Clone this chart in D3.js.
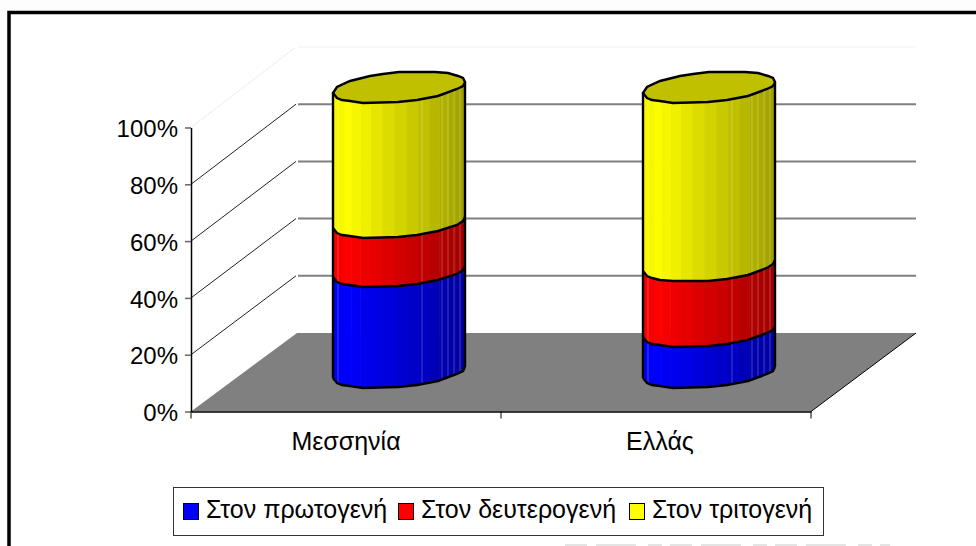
<!DOCTYPE html>
<html>
<head>
<meta charset="utf-8">
<script src="https://cdn.jsdelivr.net/npm/d3@7"></script>
<style>
  html, body { margin: 0; padding: 0; background: #fff; }
  text { font-family: "Liberation Sans", Arial, sans-serif; fill: #000; }
</style>
</head>
<body>
<svg id="chart"></svg>
<script>
// Chart data
const categories = ["Μεσσηνία", "Ελλάς"];
const seriesNames = ["Στον πρωτογενή", "Στον δευτερογενή", "Στον τριτογενή"];
const primary = [35.4, 14.4];
const secondary = [17.2, 23];
const tertiary = [47.4, 62.6];
const tickValues = [0, 20, 40, 60, 80, 100];

const colors = ["#0000ff", "#ff0000", "#ffff00"];
const capColor = "#c0c000";

const svgWidth = 976;
const svgHeight = 546;

const svg = d3.select("#chart")
  .attr("width", svgWidth)
  .attr("height", svgHeight)
  .style("display", "block");

// Frame
svg.append("rect").attr("width", svgWidth).attr("height", svgHeight).attr("fill", "#fdfdfd");
svg.append("rect").attr("x", 9).attr("y", 12.5).attr("width", 1000).attr("height", 600)
  .attr("fill", "#fff").attr("stroke", "#000").attr("stroke-width", 3.5);

// Scales: front of the box, back wall, and depth in between
const x = d3.scaleBand().domain(categories).range([191, 811]);
const yFront = d3.scaleLinear().domain([0, 100]).range([411.5, 127.5]);
const yBack = d3.scaleLinear().domain([0, 100]).range([333, 47]);
const depthX = 106;
const yMid = v => (yFront(v) + yBack(v)) / 2;

// Back wall and side wall gridlines
const walls = svg.append("g");
tickValues.slice(1).forEach(v => {
  const top = v === 100;
  walls.append("line")
    .attr("x1", 191).attr("y1", yFront(v))
    .attr("x2", 190 + depthX).attr("y2", yBack(v))
    .attr("stroke", top ? "#e6e6e6" : "#222")
    .attr("stroke-dasharray", top ? "2,1" : null)
    .attr("stroke-width", 1);
  walls.append("line")
    .attr("x1", 192 + depthX).attr("y1", yBack(v))
    .attr("x2", 916).attr("y2", yBack(v))
    .attr("stroke", top ? "#f2f2f2" : "#808080")
    .attr("stroke-width", top ? 1 : 2);
});

// Floor
const floorPoints = [[191, yFront(0)], [191 + depthX, yBack(0)], [916, yBack(0)], [811, yFront(0)]];
svg.append("polygon")
  .attr("points", floorPoints.join(" "))
  .attr("fill", "#808080");
svg.append("line")
  .attr("x1", 811).attr("y1", yFront(0)).attr("x2", 916).attr("y2", yBack(0))
  .attr("stroke", "#000").attr("stroke-width", 1);

// Axes
const axisY = d3.axisLeft(yFront)
  .tickValues(tickValues)
  .tickFormat(d => d + "%")
  .tickSize(6)
  .tickSizeOuter(0)
  .tickPadding(7);
const gy = svg.append("g").attr("transform", "translate(191,0)").call(axisY);
gy.selectAll("text").style("font-size", "24px").attr("dy", "0.38em");
gy.select("path").attr("stroke", "#000").attr("stroke-width", 1.5);
gy.selectAll("line").attr("stroke", "#666").attr("stroke-width", 1.5);

const axisX = d3.axisBottom(x).tickSize(0).tickPadding(21);
const gx = svg.append("g").attr("transform", "translate(0,411.5)").call(axisX);
gx.select("path").attr("stroke", "#000").attr("stroke-width", 1.5);
gx.selectAll("text").style("font-size", "25px").attr("dx", (d, i) => i ? 4 : 0);
[191, 501, 811].forEach(px => {
  gx.append("line").attr("x1", px).attr("x2", px).attr("y1", 0).attr("y2", 7).attr("stroke", "#000");
});

// Cylinders
const rx = 66, ry = 15, shear = 5.5;
const frontAngles = [0, 14, 28, 54, 74, 91, 123, 138, 149, 160, 180];
const backAngles = [-160, -138, -116, -104, -90, -57, -42, -27, -14];
const seamOffsets = [-61, 23, 43, 49, 55, 61];
const ringPoint = (cx, cy, deg) => {
  const t = deg * Math.PI / 180;
  return [Math.round(cx + rx * Math.cos(t)), Math.round(cy + ry * Math.sin(t) - shear * Math.cos(t))];
};

const table = categories.map((c, i) => ({
  category: c, a: primary[i], b: secondary[i], c: tertiary[i]
}));
const stacked = d3.stack().keys(["a", "b", "c"])(table);

const line = d3.line();

categories.forEach((cat, ci) => {
  const cx = x(cat) + x.bandwidth() / 2 + depthX / 2;
  const g = svg.append("g");

  stacked.forEach((layer, si) => {
    const [v0, v1] = layer[ci];
    const low = frontAngles.map(a => ringPoint(cx, yMid(v0), a));
    const high = frontAngles.map(a => ringPoint(cx, yMid(v1), a)).reverse();
    const shape = line(low.concat(high)) + "Z";
    const clipId = `clip-${ci}-${si}`;
    g.append("clipPath").attr("id", clipId).append("path").attr("d", shape);

    const strips = g.append("g").attr("clip-path", `url(#${clipId})`);
    const base = d3.rgb(colors[si]);
    // shading bands, narrower towards the edges of the cylinder
    d3.range(0, 180, 10.5).forEach(a => {
      const x0 = cx + rx * Math.cos((a + 10.5) * Math.PI / 180);
      const x1 = cx + rx * Math.cos(a * Math.PI / 180);
      const mid = (x0 + x1) / 2 - cx;
      const k = mid < -54 ? 0.97 : 1 - (mid + 54) * 0.38 / 120;
      strips.append("rect")
        .attr("x", x0).attr("width", x1 - x0 + 0.6)
        .attr("y", 0).attr("height", svgHeight)
        .attr("fill", d3.rgb(base.r * k, base.g * k, base.b * k));
    });
    seamOffsets.forEach(o => {
      strips.append("line")
        .attr("x1", cx + o).attr("x2", cx + o)
        .attr("y1", 0).attr("y2", svgHeight)
        .attr("stroke", "#fff").attr("stroke-opacity", 0.25);
    });

    // lower edge of the segment
    g.append("path").attr("d", line(low))
      .attr("fill", "none").attr("stroke", "#000").attr("stroke-width", 2.4);
  });

  // Side outlines
  const left = ringPoint(cx, yMid(0), 180), right = ringPoint(cx, yMid(0), 0);
  const leftTop = ringPoint(cx, yMid(100), 180), rightTop = ringPoint(cx, yMid(100), 0);
  g.append("path").attr("d", line([left, leftTop])).attr("stroke", "#000").attr("stroke-width", 2.4);
  g.append("path").attr("d", line([right, rightTop])).attr("stroke", "#000").attr("stroke-width", 2.4);

  // Top cap
  const capAngles = frontAngles.concat(backAngles);
  g.append("path")
    .attr("d", line(capAngles.map(a => ringPoint(cx, yMid(100), a))) + "Z")
    .attr("fill", capColor)
    .attr("stroke", "#000").attr("stroke-width", 2.4);
});

// Legend
const legend = svg.append("g");
legend.append("rect")
  .attr("x", 173.5).attr("y", 487.5).attr("width", 650).attr("height", 48)
  .attr("fill", "#fff").attr("stroke", "#333").attr("stroke-width", 1);
const legendX = [183, 398, 629];
seriesNames.forEach((name, i) => {
  legend.append("rect")
    .attr("x", legendX[i] + 0.5).attr("y", 503.5).attr("width", 15).attr("height", 16)
    .attr("fill", colors[i]).attr("stroke", "#000").attr("stroke-width", 1);
  legend.append("text")
    .attr("x", legendX[i] + (i === 1 ? 23 : 23))
    .attr("y", 518)
    .style("font-size", "25px")
    .text(name);
});

// Faint smudge at the lower edge of the scan
svg.append("line")
  .attr("x1", 565).attr("x2", 890).attr("y1", 545).attr("y2", 545)
  .attr("stroke", "#e4e4e4").attr("stroke-width", 2)
  .attr("stroke-dasharray", "22,9,40,12,14,8");
</script>
</body>
</html>
